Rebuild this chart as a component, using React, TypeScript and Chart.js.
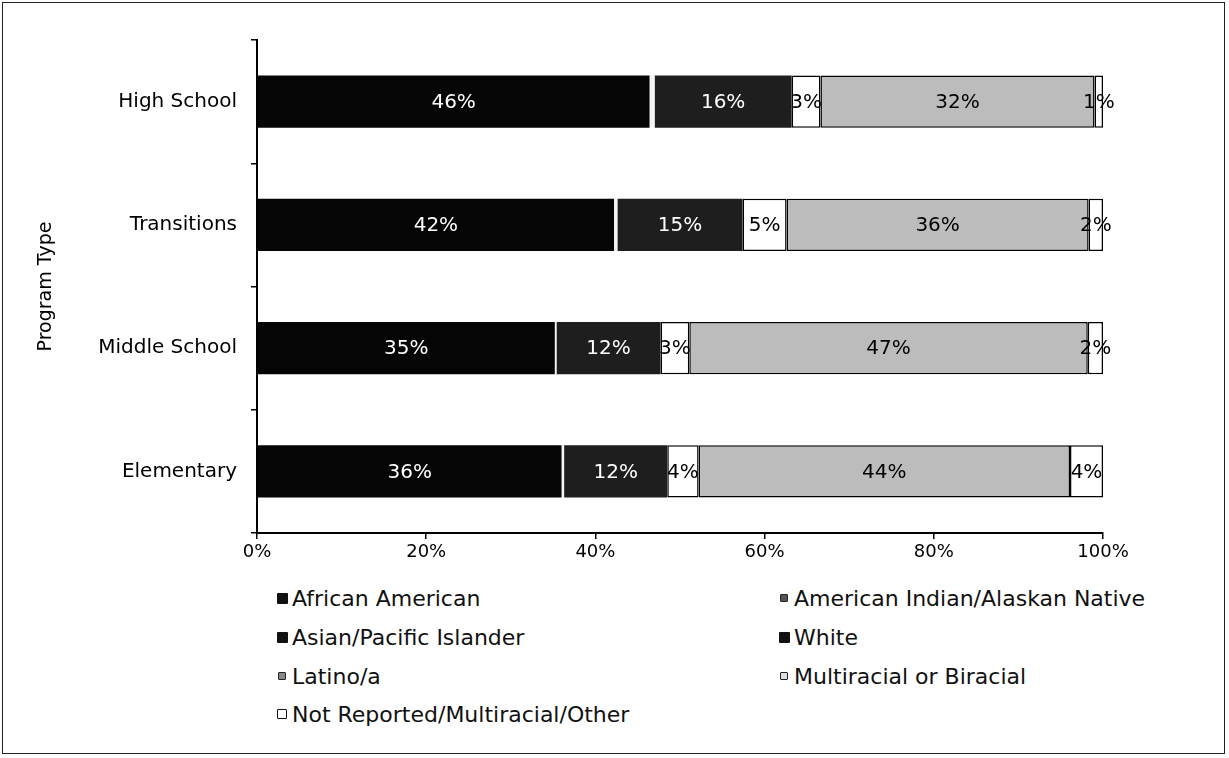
import React, { useEffect, useRef } from "react";
import { Chart, registerables } from "chart.js";
Chart.register(...registerables);

const categories = ["High School", "Transitions", "Middle School", "Elementary"];
const africanAmerican = [46.4, 42.2, 35.2, 36.0];
const americanIndian = [0.6, 0.4, 0.2, 0.3];
const asianPacific = [16.2, 14.8, 12.3, 12.2];
const whiteSeries = [3.4, 5.2, 3.4, 3.7];
const latino = [32.4, 35.7, 47.1, 43.9];
const multiracial = [0, 0, 0, 0];
const notReported = [1.0, 1.7, 1.8, 3.9];
const xTicks = [0, 20, 40, 60, 80, 100];

const seriesNames = [
  "African American",
  "American Indian/Alaskan Native",
  "Asian/Pacific Islander",
  "White",
  "Latino/a",
  "Multiracial or Biracial",
  "Not Reported/Multiracial/Other",
];
const seriesData = [africanAmerican, americanIndian, asianPacific, whiteSeries, latino, multiracial, notReported];
const fills = ["#050505", "#f4f4f4", "#1e1e1e", "#ffffff", "#bcbcbc", "#dddddd", "#ffffff"];
const borders = [0, 0, 0, 1.5, 1.5, 1.5, 1.5];
const labelColors = ["#ffffff", null, "#ffffff", "#000000", "#000000", null, "#000000"];

// legend marker appearance (as seen in the scan)
const legendMarks = [
  { c: "#111", s: 11, b: "none" },
  { c: "#555", s: 8, b: "1px solid #222" },
  { c: "#111", s: 11, b: "none" },
  { c: "#111", s: 11, b: "none" },
  { c: "#888", s: 8, b: "1px solid #222" },
  { c: "#ddd", s: 8, b: "1px solid #222" },
  { c: "#fff", s: 10, b: "1.5px solid #111" },
];

const FONT = '"DejaVu Sans", Verdana, sans-serif';

const labelPlugin = {
  id: "segLabels",
  afterDatasetsDraw(chart: any) {
    const ctx = chart.ctx;
    ctx.save();
    ctx.font = `20px ${FONT}`;
    ctx.textAlign = "center";
    ctx.textBaseline = "middle";
    chart.data.datasets.forEach((ds: any, i: number) => {
      const col = labelColors[i];
      if (!col) return;
      const meta = chart.getDatasetMeta(i);
      meta.data.forEach((el: any, j: number) => {
        const v = ds.data[j];
        if (!v) return;
        const { x, base, y } = el.getProps(["x", "base", "y"], true);
        ctx.fillStyle = col;
        ctx.fillText(Math.round(v) + "%", (x + base) / 2, y + 1);
      });
    });
    ctx.restore();
  },
};

export default function App() {
  const ref = useRef<HTMLCanvasElement | null>(null);
  useEffect(() => {
    if (!ref.current) return;
    const chart = new Chart(ref.current, {
      type: "bar",
      data: {
        labels: categories,
        datasets: seriesNames.map((name, i) => ({
          label: name,
          data: seriesData[i],
          backgroundColor: fills[i],
          borderColor: "#000",
          borderWidth: borders[i],
          borderSkipped: false,
          barPercentage: 0.85,
          categoryPercentage: 0.5,
        })),
      },
      options: {
        indexAxis: "y",
        animation: false,
        responsive: true,
        maintainAspectRatio: false,
        layout: { padding: { left: 0, top: 40, right: 126, bottom: 0 } },
        plugins: { legend: { display: false }, tooltip: { enabled: false } },
        scales: {
          x: {
            stacked: true,
            min: 0,
            max: 100,
            afterBuildTicks: (scale: any) => {
              scale.ticks = xTicks.map((v) => ({ value: v }));
            },
            afterFit: (scale: any) => {
              scale.height = 40;
            },
            ticks: {
              callback: (v: any) => v + "%",
              color: "#000",
              font: { family: FONT, size: 18 },
              padding: 3,
              maxRotation: 0,
            },
            grid: { drawOnChartArea: false, drawTicks: true, tickLength: 6, color: "#000", lineWidth: 1.5 },
            border: { color: "#000", width: 2 },
          },
          y: {
            stacked: true,
            afterFit: (scale: any) => {
              scale.width = 257;
            },
            ticks: {
              color: "#000",
              font: { family: FONT, size: 20 },
              padding: 14,
            },
            grid: { drawOnChartArea: false, drawTicks: true, tickLength: 6, color: "#000", lineWidth: 1.5, offset: true },
            border: { color: "#000", width: 2 },
            title: {
              display: true,
              text: "Program Type",
              color: "#000",
              font: { family: FONT, size: 19 },
              padding: { top: 35, bottom: 0 },
            },
          },
        },
      },
      plugins: [labelPlugin],
    } as any);
    return () => chart.destroy();
  }, []);

  const legendPos = [
    { x: 274, y: 598 },
    { x: 776, y: 598 },
    { x: 274, y: 637 },
    { x: 776, y: 637 },
    { x: 274, y: 676 },
    { x: 776, y: 676 },
    { x: 274, y: 714 },
  ];

  return (
    <div style={{ position: "fixed", left: 0, top: 0, width: 1229, height: 758, background: "#fff", fontFamily: FONT }}>
      <div
        style={{
          position: "absolute",
          left: 2,
          top: 2,
          width: 1223,
          height: 752,
          border: "1.5px solid #222",
          boxSizing: "border-box",
        }}
      />
      <div style={{ position: "absolute", left: 0, top: 0, width: 1229, height: 573 }}>
        <canvas ref={ref} />
      </div>
      {seriesNames.map((name, i) => {
        const m = legendMarks[i];
        return (
          <div
            key={name}
            style={{
              position: "absolute",
              left: legendPos[i].x,
              top: legendPos[i].y - 15,
              height: 30,
              display: "flex",
              alignItems: "center",
              whiteSpace: "nowrap",
              fontSize: 22,
              color: "#111",
            }}
          >
            <div style={{ width: 16, display: "flex", justifyContent: "center" }}>
              <span
                style={{
                  display: "inline-block",
                  width: m.s,
                  height: m.s,
                  background: m.c,
                  border: m.b,
                  boxSizing: "border-box",
                  borderRadius: 1,
                }}
              />
            </div>
            <span style={{ marginLeft: 2 }}>{name}</span>
          </div>
        );
      })}
    </div>
  );
}
